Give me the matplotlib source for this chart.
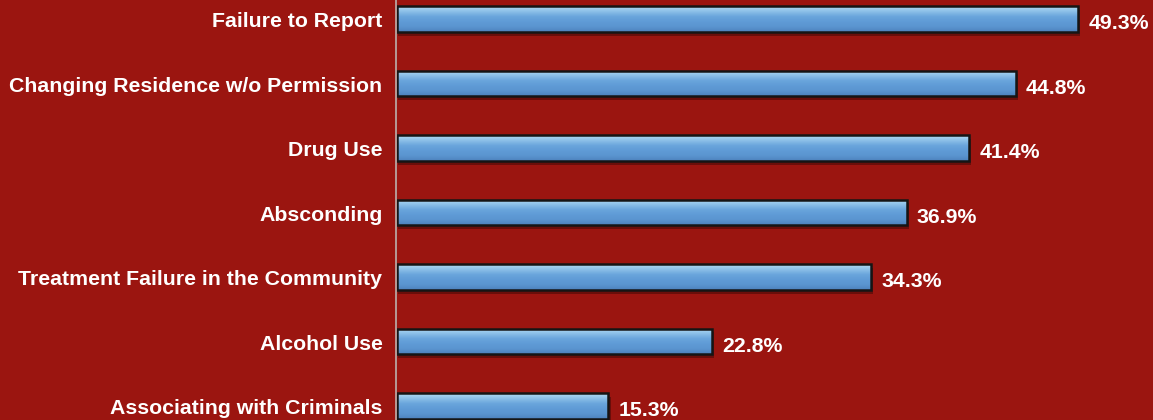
import numpy as np
import matplotlib
matplotlib.use("Agg")
import matplotlib.pyplot as plt
from matplotlib.patches import Rectangle
from matplotlib.colors import LinearSegmentedColormap

categories = [
    "Failure to Report",
    "Changing Residence w/o Permission",
    "Drug Use",
    "Absconding",
    "Treatment Failure in the Community",
    "Alcohol Use",
    "Associating with Criminals",
]
values = [49.3, 44.8, 41.4, 36.9, 34.3, 22.8, 15.3]

bg = "#9b1510"
fig = plt.figure(figsize=(11.53, 4.2), dpi=100, facecolor=bg)
ax = fig.add_axes([397 / 1153, 0, 1 - 397 / 1153, 1])
ax.set_facecolor(bg)
ax.set_xlim(0, 54.7)
ax.set_ylim(6.217, -0.295)
ax.axis("off")

bar_h = 0.40
cmap = LinearSegmentedColormap.from_list(
    "barfill", ["#b4dcf4", "#8cc0e8", "#6aa5dc", "#5f9bd6", "#5b95d0", "#4d82bd"]
)
grad = np.linspace(0, 1, 64).reshape(-1, 1)

for i, (cat, v) in enumerate(zip(categories, values)):
    y0 = i - bar_h / 2
    # soft shadow under the bar
    ax.add_patch(Rectangle((0.1, y0 + 0.06), v + 0.05, bar_h,
                           facecolor="#3a0806", edgecolor="none",
                           alpha=0.5, zorder=1))
    im = ax.imshow(grad, extent=(0, v, i + bar_h / 2, y0), cmap=cmap,
                   aspect="auto", zorder=2, interpolation="bicubic")
    rect = Rectangle((0, y0), v, bar_h, facecolor="none",
                     edgecolor="#151515", linewidth=1.8, zorder=3)
    ax.add_patch(rect)
    im.set_clip_path(rect)
    ax.text(v + 0.72, i + 0.07, f"{v:.1f}%", color="white",
            fontsize=15.3, fontweight="bold", va="center", ha="left",
            family="Liberation Sans", zorder=4)
    ax.text(-1.05, i + 0.04, cat, color="white", fontsize=15.3,
            fontweight="bold", va="center", ha="right",
            family="Liberation Sans", zorder=4, clip_on=False)

ax.axvline(-0.07, color="#b8a4a2", linewidth=1.3, zorder=5, clip_on=False)

fig.savefig("out.png", dpi=100, facecolor=bg)
